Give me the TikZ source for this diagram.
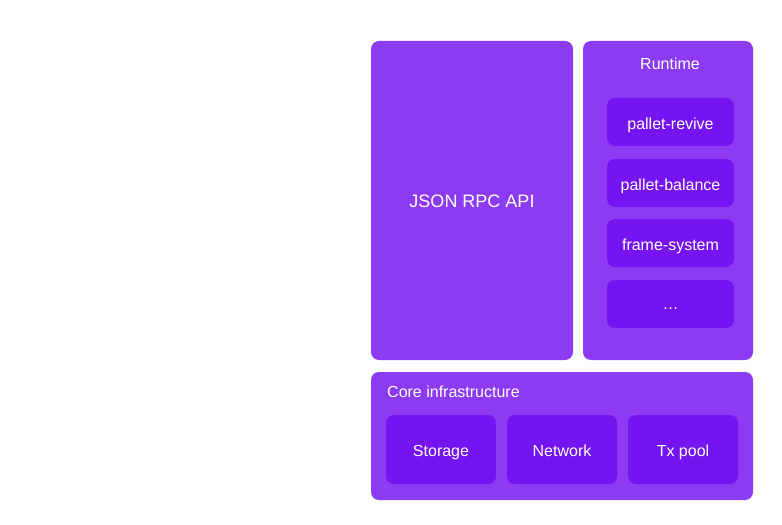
\documentclass[tikz,border=0pt]{standalone}
\usepackage{fontspec}
\setmainfont{Liberation Sans}
\definecolor{outerc}{HTML}{8C3BF3}
\definecolor{innerc}{HTML}{7514F0}
\begin{document}
\begin{tikzpicture}[x=1bp,y=-1bp,
  outerbox/.style={fill=outerc,draw=none,rounded corners=8bp},
  innerbox/.style={fill=innerc,draw=none,rounded corners=8bp},
  lbl/.style={text=white,font=\fontsize{16bp}{19bp}\selectfont,inner sep=0pt,text height=11.5bp,text depth=0bp},
  biglbl/.style={text=white,font=\fontsize{18bp}{21bp}\selectfont,inner sep=0pt,text height=12.9bp,text depth=0bp}]
\useasboundingbox (0,0) rectangle (782,525);
% outer boxes
\path[outerbox] (371,41) rectangle (573,360);
\path[outerbox] (583,41) rectangle (753,360);
\path[outerbox] (371,372) rectangle (753,500);
\node[biglbl] (json) at (472,201.5) {JSON RPC API};
\node[lbl] (rt) at (670,64) {Runtime};
\node[lbl,anchor=west] (core) at (387,392) {Core infrastructure};
% runtime inner
\path[innerbox] (607,98) rectangle (734,146);
\node[lbl] (pr) at (670.5,124) {pallet-revive};
\path[innerbox] (607,159) rectangle (734,207);
\node[lbl] (pb) at (670.5,184.5) {pallet-balance};
\path[innerbox] (607,219) rectangle (734,267);
\node[lbl] (fs) at (670.5,244.5) {frame-system};
\path[innerbox] (607,280) rectangle (734,328);
\node[lbl] (dots) at (670.5,304) {\dots};
% core inner
\path[innerbox] (386,415) rectangle (496,484);
\node[lbl] (st) at (441,451) {Storage};
\path[innerbox] (507,415) rectangle (617,484);
\node[lbl] (nw) at (562,451) {Network};
\path[innerbox] (628,415) rectangle (738,484);
\node[lbl] (tx) at (683,451) {Tx pool};
\end{tikzpicture}
\end{document}
